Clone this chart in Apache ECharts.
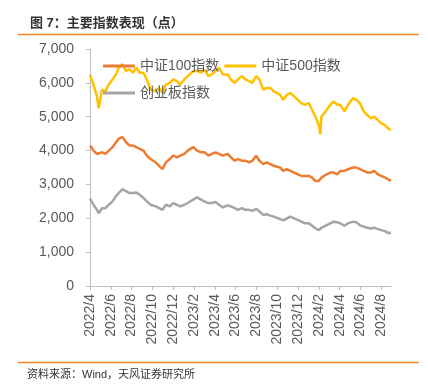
<!DOCTYPE html>
<html><head><meta charset="utf-8">
<script src="https://cdn.jsdelivr.net/npm/echarts@6/dist/echarts.min.js"></script>
<style>html,body{margin:0;padding:0;background:#fff}#c{width:428px;height:388px}</style>
</head><body><div id="c"></div>
<script>
const dates = ["2022-04-01","2022-04-11","2022-04-21","2022-04-26","2022-05-06","2022-05-16","2022-05-26","2022-06-06","2022-06-16","2022-06-24",
"2022-07-05","2022-07-15","2022-07-25","2022-08-05","2022-08-15","2022-08-25","2022-09-05","2022-09-15","2022-09-26","2022-10-11",
"2022-10-21","2022-10-31","2022-11-10","2022-11-21","2022-12-01","2022-12-12","2022-12-22","2023-01-03","2023-01-13","2023-01-30",
"2023-02-09","2023-02-20","2023-03-01","2023-03-13","2023-03-23","2023-04-03","2023-04-13","2023-04-24","2023-05-08","2023-05-18",
"2023-05-29","2023-06-08","2023-06-19","2023-06-29","2023-07-10","2023-07-20","2023-07-31","2023-08-10","2023-08-21","2023-08-31",
"2023-09-11","2023-09-21","2023-10-09","2023-10-19","2023-10-30","2023-11-09","2023-11-20","2023-11-30","2023-12-11","2023-12-21",
"2024-01-02","2024-01-12","2024-01-22","2024-02-01","2024-02-05","2024-02-08","2024-02-23","2024-03-04","2024-03-14","2024-03-25",
"2024-04-03","2024-04-15","2024-04-25","2024-05-10","2024-05-20","2024-05-30","2024-06-11","2024-06-21","2024-07-01","2024-07-11",
"2024-07-22","2024-08-01","2024-08-12","2024-08-22","2024-08-30"];
const csi500 = [6230,5950,5600,5250,5800,5750,5950,6100,6250,6450,
6550,6350,6400,6300,6450,6300,6300,6100,5800,5750,
5850,5700,5950,6000,6100,6050,5950,6100,6200,6350,
6350,6300,6400,6200,6250,6350,6450,6250,6250,6100,
6000,6100,6200,6100,6050,6000,6200,6100,5800,5850,
5850,5750,5650,5500,5650,5700,5600,5500,5400,5350,
5400,5200,5000,4750,4480,5000,5200,5350,5450,5350,
5350,5150,5350,5550,5500,5400,5150,5050,4950,5000,
4900,4800,4750,4650,4600];
const csi100 = [4150,4000,3900,3850,3950,3900,4000,4100,4250,4350,
4400,4250,4150,4150,4100,4050,4000,3850,3750,3650,
3550,3450,3650,3750,3850,3800,3850,3900,4000,4100,
4000,3950,3950,3850,3900,3950,3900,3850,3900,3800,
3700,3750,3700,3700,3650,3700,3850,3700,3600,3650,
3600,3550,3500,3400,3450,3400,3350,3300,3250,3250,
3250,3200,3100,3100,3050,3200,3300,3350,3350,3300,
3400,3400,3450,3500,3500,3450,3400,3350,3350,3400,
3300,3250,3200,3150,3100];
const chinext = [2580,2400,2250,2150,2300,2300,2400,2500,2650,2750,
2860,2800,2750,2750,2760,2700,2600,2500,2400,2350,
2300,2250,2400,2350,2450,2400,2350,2400,2450,2550,
2620,2550,2500,2450,2450,2480,2400,2320,2380,2350,
2300,2250,2300,2250,2250,2220,2280,2200,2100,2120,
2080,2050,1980,1940,2000,2050,2000,1950,1900,1850,
1850,1780,1700,1650,1600,1720,1800,1850,1900,1880,
1850,1780,1850,1900,1880,1800,1750,1720,1700,1720,
1680,1650,1620,1560,1580];
const seriesNames = ["中证100指数","中证500指数","创业板指数"];
const yTicks = [0,1000,2000,3000,4000,5000,6000,7000];
const titleText = "图 7：主要指数表现（点）";
const sourceText = "资料来源：Wind，天风证券研究所";

function mIdx(s){
  const [y,m,d] = s.split("-").map(Number);
  const dim = new Date(y, m, 0).getDate();
  return (y-2022)*12 + (m-4) + (d-1)/dim;
}
const xs = dates.map(mIdx);
const pair = arr => arr.map((v,i)=>[xs[i], v]);
const xMax = xs[xs.length-1];
const xTickVals = [];
for (let v=0; v<=xMax; v+=2) xTickVals.push(v);
function monthLabel(v){
  const t = Math.round(v) + 3;
  return (2022 + Math.floor(t/12)) + "/" + (t%12 + 1);
}
const FONT = "'Liberation Sans','Noto Sans CJK SC',sans-serif";
const chart = echarts.init(document.getElementById('c'), null, {renderer:'canvas'});
chart.setOption({
  animation:false,
  textStyle:{fontFamily:FONT},
  title:{text:titleText,left:25,top:12,textStyle:{fontSize:13,fontWeight:'bold',color:'#333',fontFamily:FONT}},
  graphic:[
    {type:'line',shape:{x1:18,y1:34.5,x2:419,y2:34.5},style:{stroke:'#F4862A',lineWidth:1.5}},
    {type:'line',shape:{x1:18,y1:362.5,x2:419,y2:362.5},style:{stroke:'#F4862A',lineWidth:1.5}},
    {type:'text',left:27,top:369,style:{text:sourceText,fontSize:11,fill:'#333',fontFamily:FONT}}
  ],
  legend:{left:98,top:50,width:262,itemGap:5,itemWidth:32,itemHeight:3,icon:'rect',
    textStyle:{fontSize:14,color:'#595959',lineHeight:22,fontFamily:FONT},
    data:seriesNames},
  grid:{left:90,right:37,top:49,bottom:102,containLabel:false},
  xAxis:{type:'value',min:0,max:xMax,interval:2,
    axisLine:{show:true,lineStyle:{color:'#BFBFBF',width:1}},
    axisTick:{show:true,inside:false,length:4,lineStyle:{color:'#BFBFBF'},customValues:xTickVals},
    axisLabel:{rotate:90,margin:8,fontSize:14,color:'#595959',customValues:xTickVals,formatter:monthLabel},
    splitLine:{show:false}},
  yAxis:{type:'value',min:0,max:7000,interval:1000,
    axisLine:{show:true,lineStyle:{color:'#BFBFBF',width:1}},
    axisTick:{show:true,inside:false,length:4,lineStyle:{color:'#BFBFBF'}},
    axisLabel:{margin:16,fontSize:14,color:'#595959',customValues:yTicks,formatter:v=>v.toLocaleString('en-US')},
    splitLine:{show:false}},
  series:[
    {name:seriesNames[0],type:'line',data:pair(csi100),symbol:'none',lineStyle:{color:'#ED7D31',width:2.5},itemStyle:{color:'#ED7D31'}},
    {name:seriesNames[1],type:'line',data:pair(csi500),symbol:'none',lineStyle:{color:'#FFC000',width:2.5},itemStyle:{color:'#FFC000'}},
    {name:seriesNames[2],type:'line',data:pair(chinext),symbol:'none',lineStyle:{color:'#A5A5A5',width:2.5},itemStyle:{color:'#A5A5A5'}}
  ]
});
</script></body></html>
